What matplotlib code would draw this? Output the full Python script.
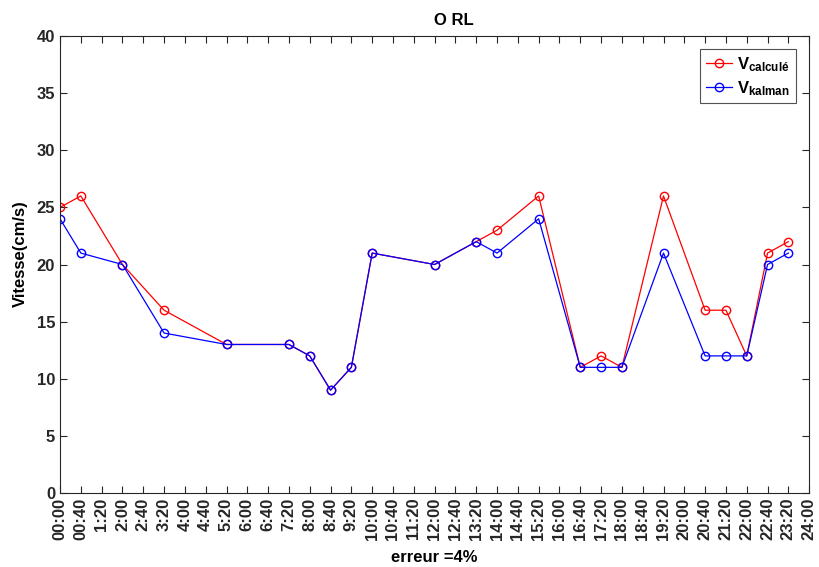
import matplotlib
matplotlib.use("Agg")
import matplotlib.pyplot as plt

# time of each measurement (hours)
heures = [0, 2/3, 2, 10/3, 16/3, 22/3, 8, 26/3, 28/3, 10, 12, 40/3, 14, 46/3,
          50/3, 52/3, 18, 58/3, 62/3, 64/3, 22, 68/3, 70/3]
v_calcule = [25, 26, 20, 16, 13, 13, 12, 9, 11, 21, 20, 22, 23, 26,
             11, 12, 11, 26, 16, 16, 12, 21, 22]
v_kalman = [24, 21, 20, 14, 13, 13, 12, 9, 11, 21, 20, 22, 21, 24,
            11, 11, 11, 21, 12, 12, 12, 20, 21]

tick_pos = [i * 2 / 3 for i in range(37)]
tick_labels = ["00:00", "00:40"] + [
    f"{int(t)}:{int(round((t % 1) * 60)):02d}" for t in tick_pos[2:]
]

plt.rcParams["font.family"] = ["Liberation Sans", "DejaVu Sans"]
plt.rcParams["font.weight"] = "bold"
plt.rcParams["mathtext.fontset"] = "custom"
plt.rcParams["mathtext.bf"] = "Liberation Sans:bold"
plt.rcParams["mathtext.rm"] = "Liberation Sans:bold"

fig = plt.figure(figsize=(8.19, 5.67), dpi=100)
ax = fig.add_axes([0.0733, 0.1305, 0.9147, 0.806])

ax.plot(heures, v_calcule, color="red", marker="o", markersize=6,
        markerfacecolor="none", linewidth=0.9, label=r"$\mathbf{V_{calculé}}$")
ax.plot(heures, v_kalman, color="blue", marker="o", markersize=6,
        markerfacecolor="none", linewidth=0.9, label=r"$\mathbf{V_{kalman}}$")

ax.set_xlim(0, 24)
ax.set_ylim(0, 40)
ax.set_yticks(range(0, 41, 5))
ax.set_xticks(tick_pos)
ax.set_xticklabels(tick_labels, rotation=90, fontsize=12, fontweight="bold")
ax.tick_params(axis="y", labelsize=12)
ax.tick_params(direction="in", top=True, right=True, length=5,
               color="#262626", labelcolor="#262626")
for s in ax.spines.values():
    s.set_color("#262626")
    s.set_linewidth(0.8)

ax.set_title("O RL", fontsize=12, fontweight="bold", pad=8, x=0.526)
ax.set_xlabel("erreur =4%", fontsize=12, fontweight="bold", labelpad=7)
ax.set_ylabel("Vitesse(cm/s)", fontsize=12, fontweight="bold")
ax.yaxis.set_label_coords(-0.043, 0.523)

leg = ax.legend(loc="upper right", fontsize=12, fancybox=False,
                edgecolor="#262626", handlelength=1.6, handletextpad=0.3,
                borderaxespad=0.8, borderpad=0.35, labelspacing=0.3)
leg.get_frame().set_linewidth(0.8)

fig.savefig("out.png", dpi=100)
